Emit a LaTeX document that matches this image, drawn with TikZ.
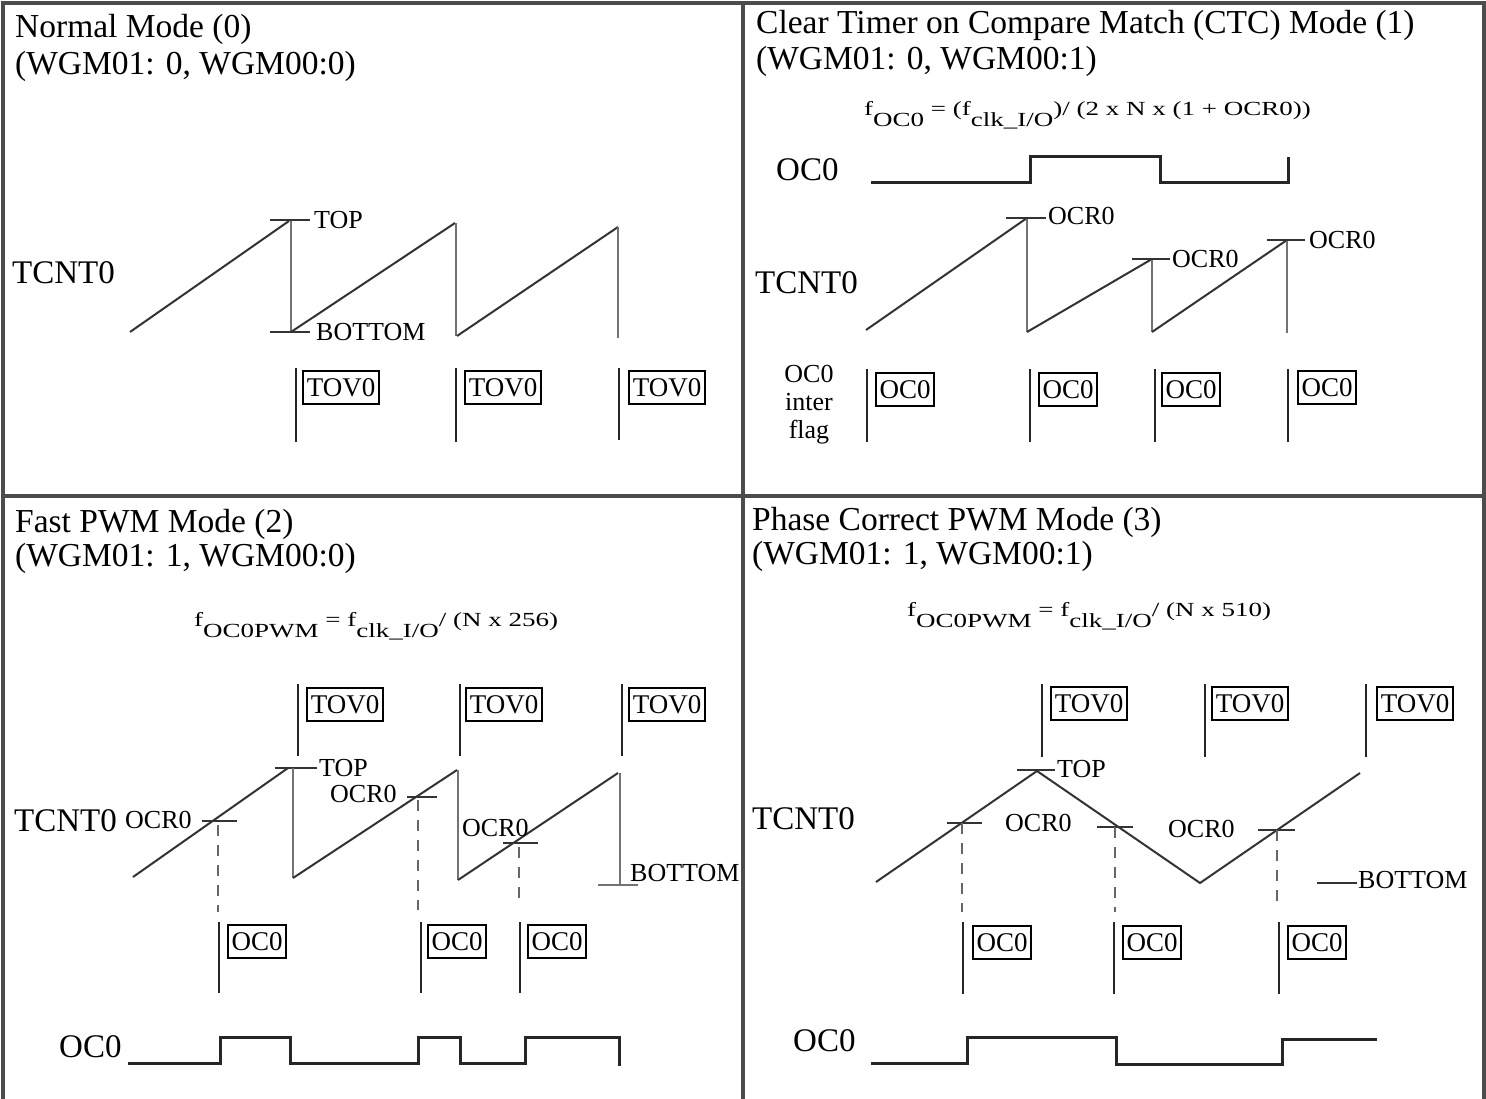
\documentclass[tikz,border=0pt]{standalone}
\usepackage{fontspec}
\setmainfont{Liberation Serif}
\newfontfamily\wideserif[FakeStretch=1.35]{Liberation Serif}
\usepackage{tikz}
\usetikzlibrary{positioning}

\newcommand{\lowsub}[1]{\raisebox{-0.55em}{#1}}

\begin{document}
\begin{tikzpicture}[
  x=1pt, y=-1pt,
  panel/.style={draw=black!70, line width=3.5pt},
  title/.style={anchor=base west, inner sep=0, font=\fontsize{33.5}{36}\selectfont},
  lbl/.style={anchor=west, inner sep=0, font=\fontsize{33}{36}\selectfont},
  small/.style={anchor=west, inner sep=0, font=\fontsize{26}{28}\selectfont},
  formula/.style={anchor=base west, inner sep=0, font=\wideserif\fontsize{20}{22}\selectfont},
  flagbox/.style={draw, line width=2.2pt, anchor=north west, inner sep=0,
    minimum height=33pt, font=\fontsize{27}{28}\selectfont},
  tovbox/.style={flagbox, minimum width=76pt},
  ocbox/.style={flagbox, minimum width=58pt},
  ramp/.style={draw=black!80, line width=2pt},
  drop/.style={draw=black!55, line width=2.8pt},
  tick/.style={draw=black!80, line width=2.4pt},
  pole/.style={draw=black!85, line width=2.6pt},
  wave/.style={draw=black!85, line width=3pt},
  dashv/.style={draw=black!60, line width=2.8pt, dash pattern=on 11pt off 9pt}
]
\useasboundingbox (0,0) rectangle (1486,1099);

% frame
\draw[panel] (3,3) rectangle (1484,1110);
\draw[panel] (743,3) -- (743,1110);
\draw[panel] (3,496) -- (1484,496);

% ---- Normal mode
\node[title] (nrmT) at (15,38) {Normal Mode (0)};
\node[title] (nrmB) at (15,75) {(WGM01: 0, WGM00:0)};
\node[lbl] (nrmCnt) at (12,273) {TCNT0};
\draw[ramp] (130,332) -- (289,221);
\draw[drop] (291,220) -- (291,332);
\draw[tick] (270,220) -- (310,220);
\draw[tick] (270,332) -- (310,332);
\node[small] (nrmTop) at (314,220) {TOP};
\node[small] (nrmBot) at (316,332) {BOTTOM};
\draw[ramp] (291,332) -- (455,223);
\draw[drop] (456,223) -- (456,336);
\draw[ramp] (457,336) -- (618,227);
\draw[drop] (618,227) -- (618,338);
\node[tovbox] (nrmF1) at (302,370) {TOV0};
\node[tovbox] (nrmF2) at (464,370) {TOV0};
\node[tovbox] (nrmF3) at (628,370) {TOV0};
\draw[pole] (296,368) -- (296,442);
\draw[pole] (456,368) -- (456,442);
\draw[pole] (619,368) -- (619,440);

% ---- CTC mode
\node[title] (ctcT) at (756,34) {Clear Timer on Compare Match (CTC) Mode (1)};
\node[title] (ctcB) at (756,70) {(WGM01: 0, WGM00:1)};
\node[formula] (ctcF) at (864,116)
  {f\lowsub{OC0} = (f\lowsub{clk\_I/O})/ (2 x N x (1 + OCR0))};
\node[lbl] (ctcOut) at (776,170) {OC0};
\draw[wave] (871,183) -- (1030,183) -- (1030,157) -- (1160,157) -- (1160,183)
  -- (1288,183) -- (1288,157);
\node[lbl] (ctcCnt) at (755,283) {TCNT0};
\draw[ramp] (866,330) -- (1027,218);
\draw[drop] (1027,218) -- (1027,332);
\draw[tick] (1006,218) -- (1046,218);
\node[small] (ctcO1) at (1048,216) {OCR0};
\draw[ramp] (1027,332) -- (1152,259);
\draw[drop] (1152,259) -- (1152,332);
\draw[tick] (1132,259) -- (1170,259);
\node[small] (ctcO2) at (1172,259) {OCR0};
\draw[ramp] (1152,332) -- (1287,240);
\draw[drop] (1287,240) -- (1287,333);
\draw[tick] (1267,240) -- (1305,240);
\node[small] (ctcO3) at (1309,240) {OCR0};
\node[small, anchor=center, align=center] (ctcFlag) at (809,405) {OC0\\inter\\flag};
\node[ocbox] (ctcF1) at (875,372) {OC0};
\node[ocbox] (ctcF2) at (1038,372) {OC0};
\node[ocbox] (ctcF3) at (1161,372) {OC0};
\node[ocbox] (ctcF4) at (1297,370) {OC0};
\draw[pole] (867,369) -- (867,442);
\draw[pole] (1030,369) -- (1030,442);
\draw[pole] (1155,369) -- (1155,442);
\draw[pole] (1288,369) -- (1288,442);

% ---- Fast PWM mode
\node[title] (fstT) at (15,532) {Fast PWM Mode (2)};
\node[title] (fstB) at (15,566) {(WGM01: 1, WGM00:0)};
\node[formula] (fstF) at (194,626)
  {f\lowsub{OC0PWM} = f\lowsub{clk\_I/O}/ (N x 256)};
\node[tovbox] (fstF1) at (306,687) {TOV0};
\node[tovbox] (fstF2) at (465,687) {TOV0};
\node[tovbox] (fstF3) at (628,687) {TOV0};
\draw[pole] (298,684) -- (298,756);
\draw[pole] (460,684) -- (460,756);
\draw[pole] (622,684) -- (622,756);
\node[lbl] (fstCnt) at (14,821) {TCNT0};
\node[small] (fstO1) at (125,820) {OCR0};
\draw[ramp] (133,877) -- (288,768);
\draw[tick] (275,768) -- (317,768);
\node[small] (fstTop) at (319,768) {TOP};
\draw[drop] (293,768) -- (293,878);
\draw[tick] (202,821) -- (237,821);
\draw[ramp] (293,878) -- (457,770);
\draw[drop] (458,770) -- (458,880);
\draw[tick] (407,797) -- (437,797);
\node[small] (fstO2) at (330,794) {OCR0};
\draw[ramp] (458,880) -- (618,773);
\draw[drop] (620,773) -- (620,885);
\draw[tick] (503,843) -- (538,843);
\node[small] (fstO3) at (462,828) {OCR0};
\draw[drop] (598,885) -- (638,885);
\node[small] (fstBot) at (630,873) {BOTTOM};
\draw[dashv] (218,825) -- (218,912);
\draw[dashv] (418,800) -- (418,910);
\draw[dashv] (519,847) -- (519,906);
\node[ocbox] (fstC1) at (227,924) {OC0};
\node[ocbox] (fstC2) at (427,924) {OC0};
\node[ocbox] (fstC3) at (527,924) {OC0};
\draw[pole] (219,922) -- (219,993);
\draw[pole] (421,922) -- (421,993);
\draw[pole] (520,922) -- (520,993);
\node[lbl] (fstOut) at (59,1047) {OC0};
\draw[wave] (128,1063) -- (220,1063) -- (220,1037) -- (290,1037) -- (290,1063)
  -- (418,1063) -- (418,1037) -- (460,1037) -- (460,1063) -- (525,1063)
  -- (525,1037) -- (619,1037) -- (619,1066);

% ---- Phase correct PWM mode
\node[title] (phsT) at (752,530) {Phase Correct PWM Mode (3)};
\node[title] (phsB) at (752,564) {(WGM01: 1, WGM00:1)};
\node[formula] (phsF) at (907,616)
  {f\lowsub{OC0PWM} = f\lowsub{clk\_I/O}/ (N x 510)};
\node[tovbox] (phsF1) at (1050,686) {TOV0};
\node[tovbox] (phsF2) at (1211,686) {TOV0};
\node[tovbox] (phsF3) at (1376,686) {TOV0};
\draw[pole] (1042,684) -- (1042,757);
\draw[pole] (1205,684) -- (1205,757);
\draw[pole] (1366,684) -- (1366,757);
\node[lbl] (phsCnt) at (752,819) {TCNT0};
\draw[ramp] (876,882) -- (1037,771) -- (1200,883) -- (1360,773);
\draw[tick] (1017,770) -- (1055,770);
\node[small] (phsTop) at (1057,769) {TOP};
\draw[tick] (947,823) -- (982,823);
\draw[tick] (1097,827) -- (1133,827);
\draw[tick] (1258,830) -- (1295,830);
\node[small] (phsO1) at (1005,823) {OCR0};
\node[small] (phsO2) at (1168,829) {OCR0};
\draw[tick] (1317,883) -- (1357,883);
\node[small] (phsBot) at (1358,880) {BOTTOM};
\draw[dashv] (962,823) -- (962,912);
\draw[dashv] (1115,827) -- (1115,912);
\draw[dashv] (1277,830) -- (1277,906);
\node[ocbox] (phsC1) at (972,925) {OC0};
\node[ocbox] (phsC2) at (1122,925) {OC0};
\node[ocbox] (phsC3) at (1287,925) {OC0};
\draw[pole] (963,922) -- (963,994);
\draw[pole] (1114,922) -- (1114,994);
\draw[pole] (1279,922) -- (1279,994);
\node[lbl] (phsOut) at (793,1041) {OC0};
\draw[wave] (871,1063) -- (967,1063) -- (967,1037) -- (1116,1037) -- (1116,1064)
  -- (1282,1064) -- (1282,1039) -- (1377,1039);
\end{tikzpicture}
\end{document}
